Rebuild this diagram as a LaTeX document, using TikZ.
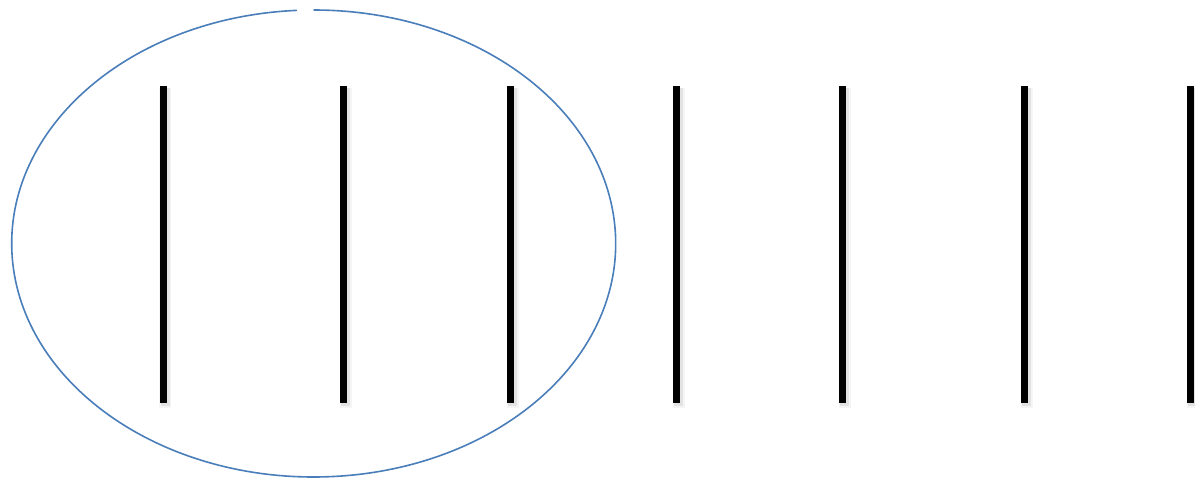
\documentclass[tikz,border=0pt]{standalone}
\usetikzlibrary{calc}
\definecolor{ringblue}{RGB}{74,126,187}
\begin{document}
\begin{tikzpicture}[x=1pt,y=-1pt,
  barline/.style={line width=7pt,black},
  barshadow/.style={line width=9pt,black,opacity=0.07},
  ring/.style={line width=1.6pt,ringblue}]
\useasboundingbox (0,0) rectangle (1195,479);
\fill[white] (0,0) rectangle (1195,479);
% ellipse with a small gap at the top
\coordinate (c) at (313.7,243.5);
\draw[ring] ($(c)+(93.2:302 and -233.5)$) arc[start angle=93.2, end angle=450, x radius=302, y radius=-233.5];
% bars with soft shadows
\foreach \x [count=\i] in {163,343.5,510.5,676.5,842.5,1024.5,1190.5}{
  \coordinate (t\i) at (\x,86);
  \coordinate (b\i) at (\x,403);
  \draw[barshadow] ($(t\i)+(2,2)$) -- ($(b\i)+(2,3)$);
  \draw[barshadow,line width=12pt,opacity=0.04] ($(t\i)+(2,2)$) -- ($(b\i)+(2,5)$);
  \draw[barline] (t\i) -- (b\i);
}
\end{tikzpicture}
\end{document}
